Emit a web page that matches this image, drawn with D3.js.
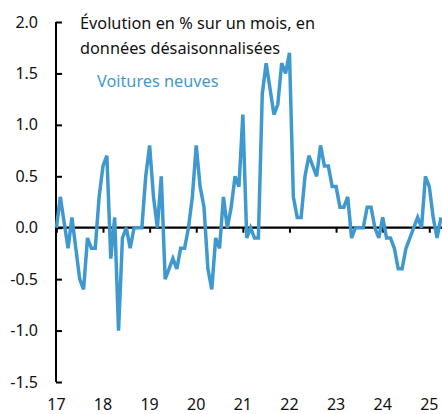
<!DOCTYPE html>
<html>
<head>
<meta charset="utf-8">
<script src="https://cdn.jsdelivr.net/npm/d3@7"></script>
<style>
  html, body { margin: 0; padding: 0; background: #fff; }
  svg { display: block; }
  text { font-family: "Noto Sans", "Open Sans", sans-serif; }
</style>
</head>
<body>
<svg id="chart" width="442" height="414"></svg>
<script>
// ---- Data (monthly, starting January 2017) ----
const startYear = 2017;
const values = [
  0.0, 0.3, 0.05, -0.2, 0.1, -0.2, -0.5, -0.6, -0.1, -0.2, -0.2, 0.3,
  0.6, 0.7, -0.3, 0.1, -1.0, -0.1, 0.0, -0.2, 0.0, 0.0, 0.0, 0.5,
  0.8, 0.3, 0.0, 0.5, -0.5, -0.4, -0.3, -0.4, -0.2, -0.2, 0.0, 0.3,
  0.8, 0.4, 0.2, -0.4, -0.6, -0.1, -0.2, 0.3, 0.0, 0.2, 0.5, 0.4,
  1.1, -0.1, 0.0, -0.1, -0.1, 1.3, 1.6, 1.35, 1.1, 1.2, 1.6, 1.5,
  1.7, 0.3, 0.1, 0.1, 0.5, 0.7, 0.6, 0.5, 0.8, 0.6, 0.6, 0.4,
  0.4, 0.2, 0.2, 0.3, -0.1, 0.0, 0.0, 0.0, 0.2, 0.2, 0.0, -0.1,
  0.1, -0.1, -0.1, -0.2, -0.4, -0.4, -0.2, -0.1, 0.0, 0.1, 0.0, 0.5,
  0.4, 0.1, -0.1, 0.1
];
const yTicks = [-1.5, -1.0, -0.5, 0.0, 0.5, 1.0, 1.5, 2.0];
const xTickYears = [2017, 2018, 2019, 2020, 2021, 2022, 2023, 2024, 2025];
const xTickLabels = ["17", "18", "19", "20", "21", "22", "23", "24", "25"];
const titleLines = ["Évolution en % sur un mois, en", "données désaisonnalisées"];
const seriesName = "Voitures neuves";

// ---- Chart ----
const lineColor = "#3f99cf";
const svg = d3.select("#chart");

const x = d3.scaleLinear().domain([2017, 2025]).range([56.4, 429.3]);
const y = d3.scaleLinear().domain([-1.5, 2.0]).range([382, 22]);

const data = values.map((v, i) => ({ t: startYear + i / 12, v }));

// y axis
const yAxis = d3.axisRight(y).tickValues(yTicks).tickSize(6).tickFormat("");
const gy = svg.append("g").attr("transform", "translate(56,0)").call(yAxis);
gy.select(".domain").attr("d", `M0,${y(2.0)}V${y(-1.5)}`).attr("stroke", "#000").attr("stroke-width", 2);
gy.selectAll(".tick line").attr("stroke", "#000").attr("stroke-width", 2);

// y labels
svg.append("g").selectAll("text").data(yTicks).join("text")
  .attr("x", 38).attr("y", d => y(d))
  .attr("dy", "0.35em")
  .attr("text-anchor", "end")
  .attr("font-size", 16)
  .attr("fill", "#111")
  .text(d => d.toFixed(1));

// x axis at zero
const xAxis = d3.axisBottom(x).tickValues(xTickYears).tickSize(5).tickFormat("");
const gx = svg.append("g").attr("transform", `translate(0,${y(0)})`).call(xAxis);
gx.select(".domain").attr("d", `M56,0H442`).attr("stroke", "#000").attr("stroke-width", 2.2);
gx.selectAll(".tick line").attr("stroke", "#000").attr("stroke-width", 2);

// x labels at bottom
svg.append("g").selectAll("text").data(xTickYears).join("text")
  .attr("x", d => x(d)).attr("y", 410)
  .attr("text-anchor", "middle")
  .attr("font-size", 16)
  .attr("fill", "#111")
  .text((d, i) => xTickLabels[i]);

// line
const line = d3.line().x(d => x(d.t)).y(d => y(d.v));
svg.append("path").datum(data)
  .attr("d", line)
  .attr("fill", "none")
  .attr("stroke", lineColor)
  .attr("stroke-width", 3.5)
  .attr("stroke-linejoin", "miter")
  .attr("stroke-miterlimit", 3);

// title
svg.append("g").selectAll("text").data(titleLines).join("text")
  .attr("x", 80).attr("y", (d, i) => 29 + i * 25)
  .attr("font-size", 16.3)
  .attr("fill", "#111")
  .text(d => d);

svg.append("text")
  .attr("x", 97).attr("y", 87)
  .attr("font-size", 16.3)
  .attr("fill", lineColor)
  .text(seriesName);
</script>
</body>
</html>
